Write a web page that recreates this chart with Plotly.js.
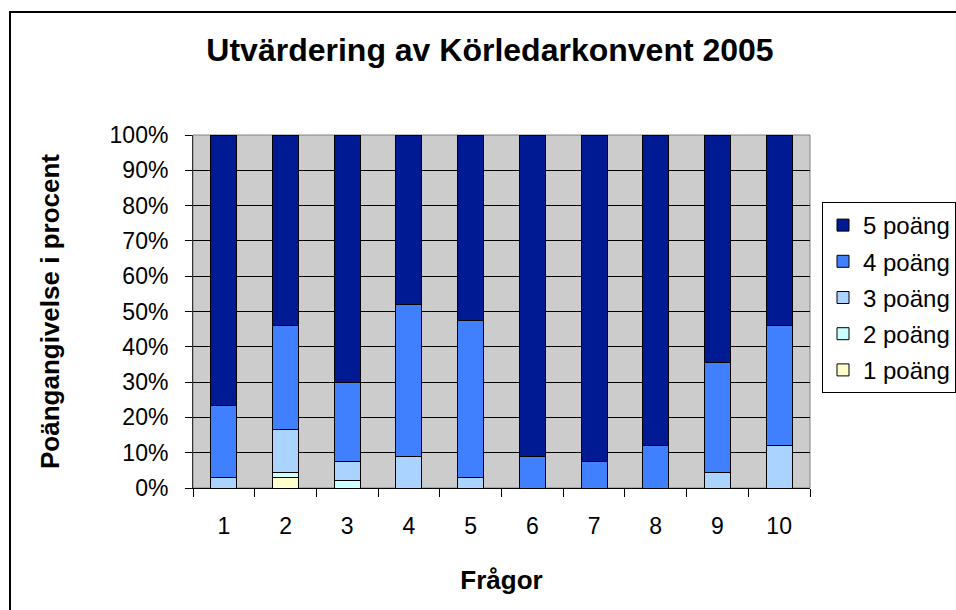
<!DOCTYPE html>
<html>
<head>
<meta charset="utf-8">
<script src="https://cdn.plot.ly/plotly-3.0.1.min.js"></script>
<style>
  html, body { margin: 0; padding: 0; background: #ffffff; }
  #chart { width: 956px; height: 610px; }
</style>
</head>
<body>
<div id="chart"></div>
<script>
const categories = ['1', '2', '3', '4', '5', '6', '7', '8', '9', '10'];
const seriesNames = ['1 poäng', '2 poäng', '3 poäng', '4 poäng', '5 poäng'];
const poang1 = [0, 3, 0, 0, 0, 0, 0, 0, 0, 0];
const poang2 = [0, 1.5, 2, 0, 0, 0, 0, 0, 0, 0];
const poang3 = [3, 12, 5.5, 9, 3, 0, 0, 0, 4.5, 12];
const poang4 = [20.5, 29.5, 22.5, 43, 44.5, 9, 7.5, 12, 31, 34];
const poang5 = [76.5, 54, 70, 48, 52.5, 91, 92.5, 88, 64.5, 54];
const yTickValues = [0, 10, 20, 30, 40, 50, 60, 70, 80, 90, 100];
const yTickLabels = ['0%', '10%', '20%', '30%', '40%', '50%', '60%', '70%', '80%', '90%', '100%'];

const seriesValues = [poang1, poang2, poang3, poang4, poang5];
const seriesColors = ['#ffffcc', '#ccffff', '#aad4ff', '#4080ff', '#001a93'];

const FONT = 'Arial, "Liberation Sans", sans-serif';

const traces = seriesValues.map((vals, i) => ({
  type: 'bar',
  name: seriesNames[i],
  x: categories,
  y: vals,
  legendgroup: 'g' + i,
  legendrank: seriesValues.length - i,
  marker: { color: seriesColors[i], line: { color: '#000000', width: 1 } },
  hoverinfo: 'x+y+name'
}));

const layout = {
  width: 956,
  height: 610,
  barmode: 'stack',
  bargap: 0.58,
  paper_bgcolor: '#ffffff',
  plot_bgcolor: '#cccccc',
  margin: { l: 193, r: 146, t: 135, b: 122, pad: 0, autoexpand: false },
  font: { family: FONT, color: '#000000', size: 23 },
  title: {
    text: '<b>Utvärdering av Körledarkonvent 2005</b>',
    font: { family: FONT, size: 32, color: '#000000' },
    x: 490 / 956, xref: 'container', xanchor: 'center',
    y: 1 - 50 / 610, yref: 'container', yanchor: 'middle'
  },
  xaxis: {
    type: 'category',
    categoryorder: 'array',
    categoryarray: categories,
    tickson: 'boundaries',
    ticks: 'outside',
    ticklen: 8,
    tickcolor: '#000000',
    tickwidth: 1,
    showline: true,
    linecolor: '#000000',
    linewidth: 1,
    showgrid: false,
    zeroline: false,
    tickfont: { family: FONT, size: 23, color: '#000000' },
    ticklabelstandoff: 17,
    title: {
      text: '<b>Frågor</b>',
      font: { family: FONT, size: 26, color: '#000000' },
      standoff: 33
    }
  },
  yaxis: {
    range: [0, 100],
    tickvals: yTickValues,
    ticktext: yTickLabels,
    ticks: 'outside',
    ticklen: 7,
    tickcolor: '#000000',
    tickwidth: 1,
    showline: true,
    linecolor: '#333333',
    linewidth: 1,
    showgrid: true,
    gridcolor: '#000000',
    gridwidth: 1,
    zeroline: false,
    tickfont: { family: FONT, size: 23, color: '#000000' },
    ticklabelstandoff: 12,
    title: {
      text: '<b>Poängangivelse i procent</b>',
      font: { family: FONT, size: 26, color: '#000000' },
      standoff: 42
    }
  },
  legend: {
    x: (822 - 193) / 617, xanchor: 'left',
    y: (488 - 202) / 353, yanchor: 'top',
    traceorder: 'grouped',
    tracegroupgap: 2,
    bgcolor: '#ffffff',
    bordercolor: '#000000',
    borderwidth: 1,
    font: { family: FONT, size: 24, color: '#000000' }
  },
  shapes: [
    {
      type: 'rect', xref: 'paper', yref: 'paper',
      x0: 0, x1: 1, y0: 0, y1: 1,
      line: { color: '#808080', width: 1 },
      fillcolor: 'rgba(0,0,0,0)', layer: 'below'
    },
    {
      type: 'rect', xref: 'paper', yref: 'paper',
      x0: (10 - 193) / 617, x1: 1.6,
      y0: (488 - 12) / 353, y1: -0.6,
      line: { color: '#000000', width: 2 },
      fillcolor: 'rgba(0,0,0,0)'
    }
  ],
  showlegend: true
};

Plotly.newPlot('chart', traces, layout, { displayModeBar: false, staticPlot: true });
</script>
</body>
</html>
